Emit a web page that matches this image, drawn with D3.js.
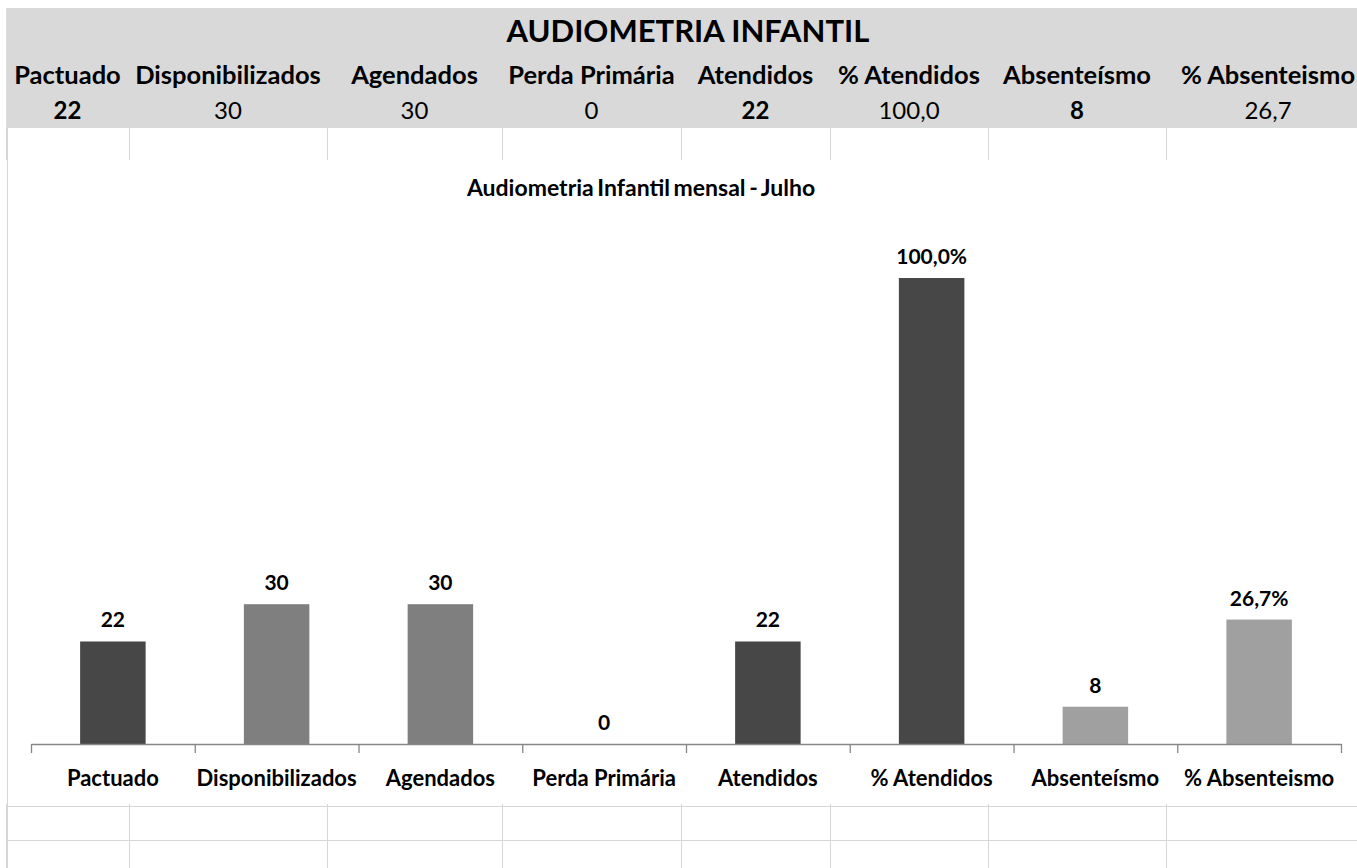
<!DOCTYPE html>
<html lang="pt-BR">
<head>
<meta charset="utf-8">
<title>Audiometria Infantil</title>
<script src="https://cdn.jsdelivr.net/npm/d3@7"></script>
<style>
  html, body { margin: 0; padding: 0; background: #ffffff; }
  svg { display: block; }
  text { font-family: Lato, "Noto Sans", sans-serif; fill: #000; }
</style>
</head>
<body>
<svg id="sheet" width="1357" height="868"></svg>
<script>
// Monthly figures for child audiometry (July)
const categories = ["Pactuado", "Disponibilizados", "Agendados", "Perda Primária", "Atendidos", "% Atendidos", "Absenteísmo", "% Absenteismo"];
const values = [22, 30, 30, 0, 22, 100, 8, 26.7];
const boldCells = ["Pactuado", "Atendidos", "Absenteísmo"];
const sheetTitle = "AUDIOMETRIA INFANTIL";
const chartTitle = "Audiometria Infantil mensal - Julho";

// Spreadsheet geometry
const W = 1357, H = 868;
const colEdges = [6, 129, 327, 502, 681, 830, 988, 1166, 1370];
const band = { top: 8, bottom: 128 };
const gridColor = "#d6d6d6";

// Chart geometry
const plot = { left: 31, right: 1341, base: 744, top100: 278 };

const barColor = d3.scaleOrdinal()
  .domain(categories)
  .range(["#474747", "#7f7f7f", "#7f7f7f", "#7f7f7f", "#474747", "#474747", "#a0a0a0", "#a0a0a0"]);

const isPct = c => c.startsWith("%");
const num = v => v.toFixed(1).replace(".", ",");
const cellText = (c, v) => isPct(c) ? num(v) : String(v);
const labelText = (c, v) => isPct(c) ? num(v) + "%" : String(v);

const svg = d3.select("#sheet");
svg.append("rect").attr("width", W).attr("height", H).attr("fill", "#fff");

// ---- Sheet grid (rows below the header band and below the chart) ----
const grid = svg.append("g").attr("stroke", gridColor).attr("stroke-width", 1).attr("shape-rendering", "crispEdges");
const innerEdges = colEdges.slice(0, -1);
// row under header band
grid.selectAll("line.vtop").data(innerEdges).join("line")
  .attr("x1", d => d + 0.5).attr("x2", d => d + 0.5)
  .attr("y1", band.bottom).attr("y2", 160);
// rows under chart
grid.selectAll("line.vbot").data(innerEdges).join("line")
  .attr("x1", d => d + 0.5).attr("x2", d => d + 0.5)
  .attr("y1", 804).attr("y2", H);
grid.selectAll("line.h").data([806, 840]).join("line")
  .attr("x1", colEdges[0]).attr("x2", W)
  .attr("y1", d => d + 0.5).attr("y2", d => d + 0.5);

// ---- Header band ----
svg.append("rect")
  .attr("x", colEdges[0]).attr("y", band.top)
  .attr("width", W - colEdges[0]).attr("height", band.bottom - band.top)
  .attr("fill", "#d9d9d9");

svg.append("text")
  .attr("x", (colEdges[0] + colEdges[colEdges.length - 1]) / 2)
  .attr("y", 42)
  .attr("text-anchor", "middle")
  .attr("font-size", 31).attr("font-weight", 700)
  .text(sheetTitle);

const colCenter = i => (colEdges[i] + colEdges[i + 1]) / 2;

svg.append("g").selectAll("text").data(categories).join("text")
  .attr("x", (d, i) => colCenter(i))
  .attr("y", 84)
  .attr("text-anchor", "middle")
  .attr("font-size", 25.5).attr("font-weight", 700)
  .text(d => d);

svg.append("g").selectAll("text").data(values).join("text")
  .attr("x", (d, i) => colCenter(i))
  .attr("y", 119)
  .attr("text-anchor", "middle")
  .attr("font-size", 24)
  .attr("font-weight", (d, i) => boldCells.includes(categories[i]) ? 700 : 400)
  .text((d, i) => cellText(categories[i], d));

// ---- Chart ----
const chart = svg.append("g");
chart.append("rect")
  .attr("x", 9).attr("y", 160).attr("width", W - 9).attr("height", 804 - 160)
  .attr("fill", "#fff");

chart.append("text")
  .attr("x", 641).attr("y", 196)
  .attr("text-anchor", "middle")
  .attr("font-size", 23).attr("font-weight", 700)
  .attr("word-spacing", -2)
  .text(chartTitle);

const x = d3.scaleBand()
  .domain(categories)
  .range([plot.left, plot.right])
  .paddingInner(0.6)
  .paddingOuter(0.3);

const y = d3.scaleLinear()
  .domain([0, 100])
  .range([plot.base, plot.top100]);

// Bars
chart.append("g").selectAll("rect").data(values).join("rect")
  .attr("x", (d, i) => x(categories[i]))
  .attr("width", x.bandwidth())
  .attr("y", d => y(d))
  .attr("height", d => plot.base - y(d))
  .attr("fill", (d, i) => barColor(categories[i]));

// Value labels
chart.append("g").selectAll("text").data(values).join("text")
  .attr("x", (d, i) => x(categories[i]) + x.bandwidth() / 2)
  .attr("y", d => y(d) - 14)
  .attr("text-anchor", "middle")
  .attr("font-size", 21).attr("font-weight", 700)
  .text((d, i) => labelText(categories[i], d));

// Category axis with tick marks on the boundaries between categories
const edge = d3.scaleLinear().domain([0, categories.length]).range([plot.left, plot.right]);
const axis = chart.append("g")
  .attr("transform", `translate(0,${plot.base})`)
  .call(d3.axisBottom(edge)
    .tickValues(d3.range(categories.length + 1))
    .tickSize(9)
    .tickSizeOuter(0)
    .tickFormat(""));
axis.selectAll("path, line").attr("stroke", "#868686").attr("stroke-width", 1.3);

chart.append("g").selectAll("text").data(categories).join("text")
  .attr("x", d => x(d) + x.bandwidth() / 2)
  .attr("y", 786)
  .attr("text-anchor", "middle")
  .attr("font-size", 22).attr("font-weight", 700)
  .text(d => d);

// Column A border running down the sheet
svg.append("line")
  .attr("x1", colEdges[0] + 1.5).attr("x2", colEdges[0] + 1.5)
  .attr("y1", band.bottom).attr("y2", H)
  .attr("stroke", gridColor);
</script>
</body>
</html>
